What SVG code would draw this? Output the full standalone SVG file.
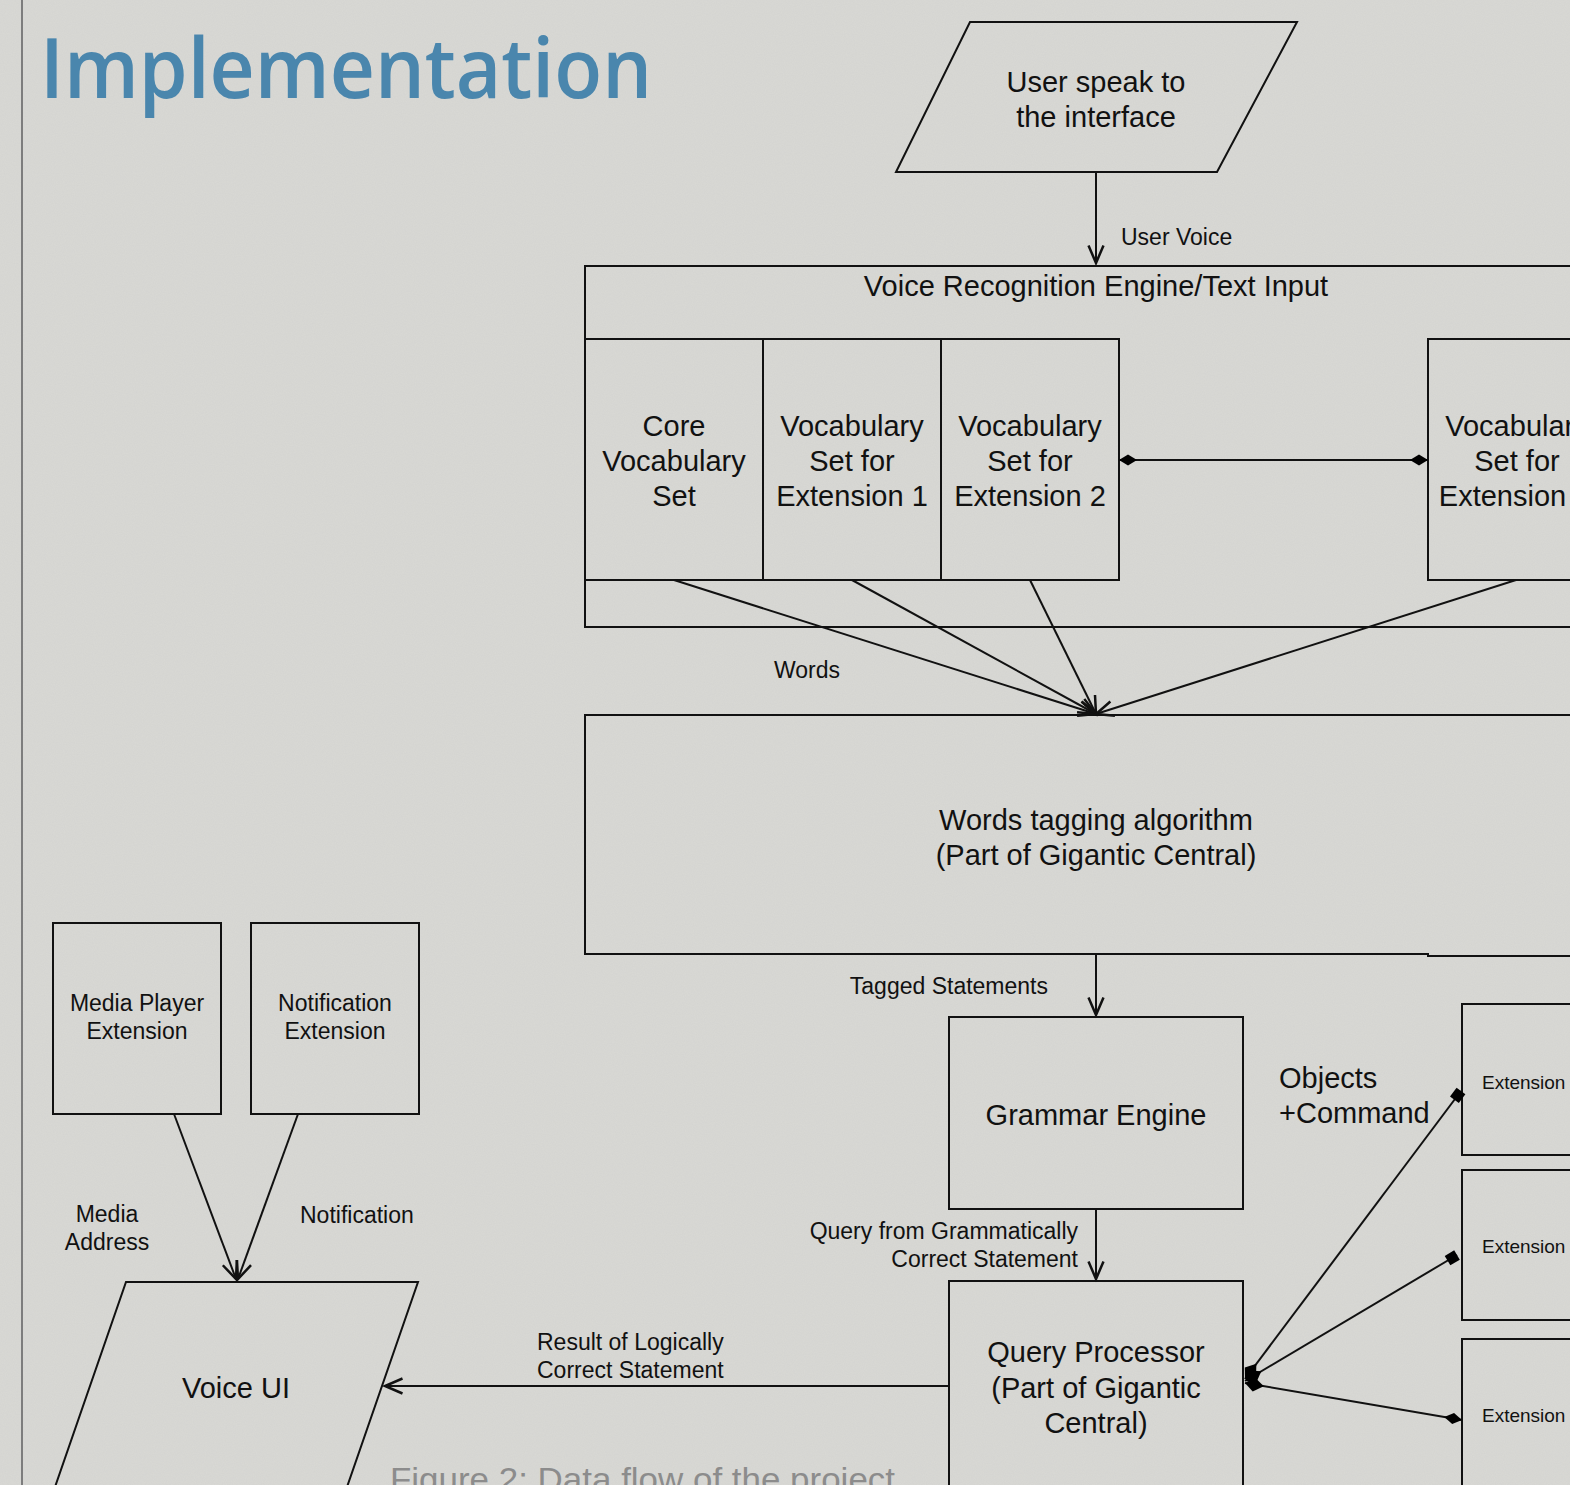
<svg xmlns="http://www.w3.org/2000/svg" width="1570" height="1485" viewBox="0 0 1570 1485">
<defs>
<filter id="grain" x="0" y="0" width="100%" height="100%">
<feTurbulence type="fractalNoise" baseFrequency="0.9" numOctaves="2" seed="3" result="n"/>
<feColorMatrix type="matrix" values="0 0 0 0 0.5  0 0 0 0 0.5  0 0 0 0 0.5  0 0 0 0.18 0" in="n"/>
</filter>
<marker id="arr" markerUnits="userSpaceOnUse" markerWidth="20" markerHeight="20" viewBox="-1 -8 16 16" refX="14" refY="0" orient="auto" overflow="visible">
<path d="M0,-6 L14,0 L0,6" fill="none" stroke="#111" stroke-width="2"/>
</marker>
<marker id="dia" markerUnits="userSpaceOnUse" markerWidth="20" markerHeight="12" viewBox="0 -6 20 12" refX="19" refY="0" orient="auto-start-reverse" overflow="visible">
<path d="M1,0 L10,-5.5 L19,0 L10,5.5 z" fill="#000"/>
</marker>
<marker id="bigdia" markerUnits="userSpaceOnUse" markerWidth="24" markerHeight="16" viewBox="0 -8 24 16" refX="0" refY="0" orient="auto" overflow="visible">
<path d="M0,0 L9,-7 L19,0 L9,7 z" fill="#000"/>
</marker>
<marker id="sq" markerUnits="userSpaceOnUse" markerWidth="14" markerHeight="14" viewBox="0 -7 14 14" refX="11" refY="0" orient="auto" overflow="visible">
<path d="M0,-5.5 L11,-5.5 L11,5.5 L0,5.5 z" fill="#000"/>
</marker>
</defs>
<style>
.bx{fill:none;stroke:#111;stroke-width:2}
.ln{fill:none;stroke:#111;stroke-width:2}
.t{font-family:"Liberation Sans",Arial,sans-serif;fill:#111}
.c{text-anchor:middle}
.r{text-anchor:end}
.f29{font-size:29px}
.f23{font-size:23px}
.f19{font-size:19px}
</style>
<rect x="0" y="0" width="1570" height="1485" fill="#d9d9d5"/>
<rect x="0" y="0" width="1570" height="1485" filter="url(#grain)"/>
<line x1="22" y1="0" x2="22" y2="1485" stroke="#7d7d7d" stroke-width="2"/>
<text x="40" y="98" font-family="'Open Sans',sans-serif" font-weight="600" font-size="84" fill="#4a86ad" textLength="612" lengthAdjust="spacingAndGlyphs">Implementation</text>

<g id="user">
<polygon class="bx" points="970,22 1297,22 1217,172 896,172"/>
<text class="t c f29" x="1096" y="92">User speak to</text>
<text class="t c f29" x="1096" y="127">the interface</text>
</g>
<g id="vre">
<path class="bx" d="M1572,266 L585,266 L585,627 L1572,627"/>
<text class="t c f29" x="1096" y="296">Voice Recognition Engine/Text Input</text>
</g>
<g id="core">
<rect class="bx" x="585" y="339" width="178" height="241"/>
<text class="t c f29" x="674" y="436">Core</text>
<text class="t c f29" x="674" y="471">Vocabulary</text>
<text class="t c f29" x="674" y="506">Set</text>
</g>
<g id="vocab1">
<rect class="bx" x="763" y="339" width="178" height="241"/>
<text class="t c f29" x="852" y="436">Vocabulary</text>
<text class="t c f29" x="852" y="471">Set for</text>
<text class="t c f29" x="852" y="506">Extension 1</text>
</g>
<g id="vocab2">
<rect class="bx" x="941" y="339" width="178" height="241"/>
<text class="t c f29" x="1030" y="436">Vocabulary</text>
<text class="t c f29" x="1030" y="471">Set for</text>
<text class="t c f29" x="1030" y="506">Extension 2</text>
</g>
<g id="vocabN">
<path class="bx" d="M1572,339 L1428,339 L1428,580 L1572,580"/>
<text class="t c f29" x="1517" y="436">Vocabulary</text>
<text class="t c f29" x="1517" y="471">Set for</text>
<text class="t c f29" x="1517" y="506">Extension N</text>
</g>
<g id="tagging">
<path class="bx" d="M1572,715 L585,715 L585,954 L1428,954 L1428,956 L1572,956"/>
<text class="t c f29" x="1096" y="830">Words tagging algorithm</text>
<text class="t c f29" x="1096" y="865">(Part of Gigantic Central)</text>
</g>
<g id="grammar">
<rect class="bx" x="949" y="1017" width="294" height="192"/>
<text class="t c f29" x="1096" y="1125">Grammar Engine</text>
</g>
<g id="query">
<path class="bx" d="M949,1490 L949,1281 L1243,1281 L1243,1490"/>
<text class="t c f29" x="1096" y="1362">Query Processor</text>
<text class="t c f29" x="1096" y="1398">(Part of Gigantic</text>
<text class="t c f29" x="1096" y="1433">Central)</text>
</g>
<g id="media">
<rect class="bx" x="53" y="923" width="168" height="191"/>
<text class="t c f23" x="137" y="1011">Media Player</text>
<text class="t c f23" x="137" y="1039">Extension</text>
</g>
<g id="notif">
<rect class="bx" x="251" y="923" width="168" height="191"/>
<text class="t c f23" x="335" y="1011">Notification</text>
<text class="t c f23" x="335" y="1039">Extension</text>
</g>
<g id="voiceui">
<path class="bx" d="M55,1487 L126,1282 L418,1282 L347,1487"/>
<text class="t c f29" x="236" y="1398">Voice UI</text>
</g>
<g id="ext1">
<path class="bx" d="M1572,1004 L1462,1004 L1462,1155 L1572,1155"/>
<text class="t f19" x="1482" y="1089">Extension</text>
</g>
<g id="ext2">
<path class="bx" d="M1572,1170 L1462,1170 L1462,1320 L1572,1320"/>
<text class="t f19" x="1482" y="1253">Extension</text>
</g>
<g id="ext3">
<path class="bx" d="M1572,1339 L1462,1339 L1462,1490"/>
<text class="t f19" x="1482" y="1422">Extension</text>
</g>

<g id="connectors">
<line class="ln" x1="1096" y1="172" x2="1096" y2="263" marker-end="url(#arr)"/>
<text class="t f23" x="1121" y="245">User Voice</text>
<line class="ln" x1="1119" y1="460" x2="1428" y2="460" marker-start="url(#dia)" marker-end="url(#dia)"/>
<line class="ln" x1="674" y1="580" x2="1096" y2="714" marker-end="url(#arr)"/>
<line class="ln" x1="852" y1="580" x2="1096" y2="714" marker-end="url(#arr)"/>
<line class="ln" x1="1030" y1="580" x2="1096" y2="714" marker-end="url(#arr)"/>
<line class="ln" x1="1516" y1="580" x2="1096" y2="714" marker-end="url(#arr)"/>
<text class="t c f23" x="807" y="678">Words</text>
<line class="ln" x1="1096" y1="954" x2="1096" y2="1015" marker-end="url(#arr)"/>
<text class="t r f23" x="1048" y="994">Tagged Statements</text>
<line class="ln" x1="1096" y1="1209" x2="1096" y2="1279" marker-end="url(#arr)"/>
<text class="t r f23" x="1078" y="1239">Query from Grammatically</text>
<text class="t r f23" x="1078" y="1267">Correct Statement</text>
<line class="ln" x1="949" y1="1386" x2="385" y2="1386" marker-end="url(#arr)"/>
<text class="t f23" x="537" y="1350">Result of Logically</text>
<text class="t f23" x="537" y="1378">Correct Statement</text>
<line class="ln" x1="174" y1="1114" x2="236" y2="1279" marker-end="url(#arr)"/>
<line class="ln" x1="298" y1="1114" x2="238" y2="1279" marker-end="url(#arr)"/>
<text class="t c f23" x="107" y="1222">Media</text>
<text class="t c f23" x="107" y="1250">Address</text>
<text class="t f23" x="300" y="1223">Notification</text>
<line class="ln" x1="1245" y1="1379" x2="1461" y2="1091" marker-start="url(#bigdia)" marker-end="url(#sq)"/>
<line class="ln" x1="1245" y1="1381" x2="1457" y2="1255" marker-start="url(#bigdia)" marker-end="url(#sq)"/>
<line class="ln" x1="1245" y1="1383" x2="1462" y2="1420" marker-start="url(#bigdia)" marker-end="url(#dia)"/>
<text class="t f29" x="1279" y="1088">Objects</text>
<text class="t f29" x="1279" y="1123">+Command</text>
</g>
<text x="390" y="1491" font-family="'Liberation Sans',Arial,sans-serif" font-size="34" fill="#8c8c8c" textLength="505" lengthAdjust="spacingAndGlyphs">Figure 2: Data flow of the project</text>
</svg>
